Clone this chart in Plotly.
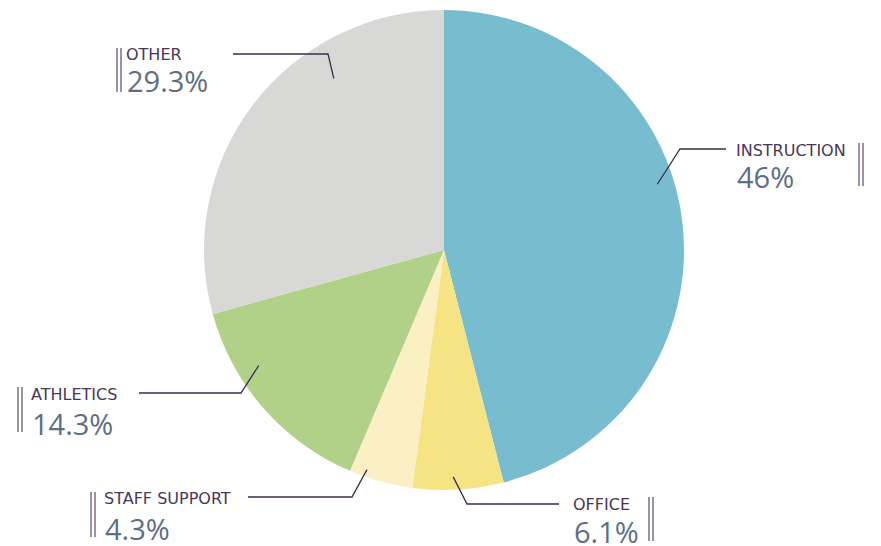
import math
import plotly.graph_objects as go

# ---- data ----
categories = ["INSTRUCTION", "OFFICE", "STAFF SUPPORT", "ATHLETICS", "OTHER"]
values = [46.0, 6.1, 4.3, 14.3, 29.3]
pct_labels = ["46%", "6.1%", "4.3%", "14.3%", "29.3%"]
colors = ["#77BDCF", "#F5E384", "#FAF0C3", "#B2D188", "#D8D8D6"]

W, H = 881, 546
CX, CY, R = 444, 250, 240

def px(x):
    return x / W

def py(y):
    return 1 - y / H

fig = go.Figure()
fig.add_trace(go.Pie(
    labels=categories, values=values, sort=False, direction="clockwise",
    rotation=0, marker=dict(colors=colors, line=dict(width=0)),
    textinfo="none", hoverinfo="label+percent", showlegend=False,
    domain=dict(x=[px(CX - R), px(CX + R)], y=[py(CY + R), py(CY - R)]),
))

label_layout = {
    "INSTRUCTION": dict(f=0.44, r=0.93, bend=(680, 149), end=(726, 149), tx=737, ly=149, py_=176, bx=(859, 863), by=(143, 186)),
    "OFFICE": dict(f=0.55, r=0.946, bend=(467, 504), end=(559, 504), tx=574, ly=503.5, py_=530, bx=(649, 653), by=(497, 541)),
    "STAFF SUPPORT": dict(f=0.76, r=0.97, bend=(352, 497), end=(248, 497), tx=105, ly=497.5, py_=527, bx=(91, 95), by=(492, 537)),
    "ATHLETICS": dict(f=0.68, r=0.91, bend=(241, 393), end=(139, 393), tx=32, ly=393, py_=422.5, bx=(18, 22), by=(387, 432)),
    "OTHER": dict(f=0.69, r=0.85, bend=(328, 54), end=(233, 54), tx=127, ly=54, py_=79.5, bx=(117, 121), by=(48, 92)),
}

LINE = "#3F2A52"
LABEL_C = "#4A3658"
PCT_C = "#5F6E83"
LABEL_FONT = "'DejaVu Sans', sans-serif"
PCT_FONT = "'Open Sans', sans-serif"

total = sum(values)
cum = 0.0
shapes = []
annotations = []
for cat, val, pl in zip(categories, values, pct_labels):
    L = label_layout[cat]
    ang_deg = (cum + L["f"] * val) / total * 360.0  # clockwise from top
    cum += val
    a = math.radians(ang_deg)
    ax = CX + L["r"] * R * math.sin(a)
    ay = CY - L["r"] * R * math.cos(a)
    bx_, by_ = L["bend"]
    ex, ey = L["end"]
    path = f"M {px(ax)} {py(ay)} L {px(bx_)} {py(by_)} L {px(ex)} {py(ey)}"
    shapes.append(dict(type="path", xref="paper", yref="paper", path=path,
                       line=dict(color=LINE, width=1.3)))
    for bxx in L["bx"]:
        shapes.append(dict(type="line", xref="paper", yref="paper",
                           x0=px(bxx), x1=px(bxx), y0=py(L["by"][0]), y1=py(L["by"][1]),
                           line=dict(color="#5A4A6E", width=1.2)))
    annotations.append(dict(x=px(L["tx"] - 2), y=py(L["ly"] + 0.5), xref="paper", yref="paper",
                            text=cat, showarrow=False, xanchor="left", yanchor="middle",
                            height=16, borderpad=0,
                            font=dict(family=LABEL_FONT, size=16, color=LABEL_C)))
    annotations.append(dict(x=px(L["tx"] - 1), y=py(L["py_"] + 0.5), xref="paper", yref="paper",
                            text=pl, showarrow=False, xanchor="left", yanchor="middle",
                            height=28, borderpad=0,
                            font=dict(family=PCT_FONT, size=29, color=PCT_C, weight=400)))

fig.update_layout(
    width=W, height=H, margin=dict(l=0, r=0, t=0, b=0),
    paper_bgcolor="white", plot_bgcolor="white",
    shapes=shapes, annotations=annotations,
)
fig.write_html("out.html", config={"displayModeBar": False})

with open("out.html", "r", encoding="utf-8") as fh:
    html = fh.read()
html = html.replace("<head>", "<head><style>html,body{margin:0;padding:0;overflow:hidden;}</style>", 1)
with open("out.html", "w", encoding="utf-8") as fh:
    fh.write(html)
